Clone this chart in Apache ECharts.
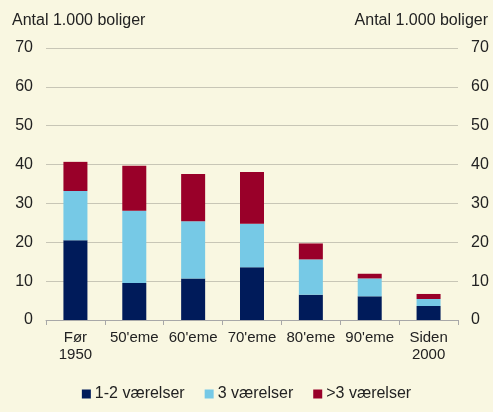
<!DOCTYPE html>
<html>
<head>
<meta charset="utf-8">
<script src="https://cdn.jsdelivr.net/npm/echarts@6/dist/echarts.min.js"></script>
<style>
  html, body { margin: 0; padding: 0; background: #f9f7e1; }
  #chart { width: 493px; height: 412px; }
</style>
</head>
<body>
<div id="chart"></div>
<script>
// Kategorier (opførelsesperiode)
const categories = ['Før\n1950', "50'eme", "60'eme", "70'eme", "80'eme", "90'eme", 'Siden\n2000'];

// Antal 1.000 boliger pr. størrelse
const small = [20.5, 9.5, 10.7, 13.6, 6.5, 6.1, 3.6];   // 1-2 værelser
const medium = [12.7, 18.6, 14.7, 11.2, 9.1, 4.6, 1.8]; // 3 værelser
const large = [7.5, 11.6, 12.2, 13.3, 4.1, 1.2, 1.3];   // >3 værelser

const seriesNames = ['1-2 værelser', '3 værelser', '>3 værelser'];
const axisTitle = 'Antal 1.000 boliger';

const COLORS = {
    navy: '#001b5a',
    lightBlue: '#76c9e6',
    red: '#990029',
    grid: '#c8c6b6',
    axis: '#a8a8a8',
    text: '#222222'
};

const FONT = 'Liberation Sans, Arial, sans-serif';

const chart = echarts.init(document.getElementById('chart'));

const valueAxis = (position) => ({
    type: 'value',
    position: position,
    min: 0,
    max: 70,
    interval: 10,
    axisLine: { show: false },
    axisTick: { show: false },
    axisLabel: {
        color: COLORS.text,
        fontSize: 16,
        fontFamily: FONT,
        margin: 13
    },
    splitLine: { show: position === 'left', lineStyle: { color: COLORS.grid, width: 1 } }
});

const option = {
    backgroundColor: '#f9f7e1',
    animation: false,
    textStyle: { fontFamily: FONT },
    title: [
        { text: axisTitle, left: 7, top: 8, textStyle: { fontSize: 16, fontWeight: 'normal', color: COLORS.text, fontFamily: FONT } },
        { text: axisTitle, right: 0, top: 8, textStyle: { fontSize: 16, fontWeight: 'normal', color: COLORS.text, fontFamily: FONT } }
    ],
    legend: {
        bottom: 5,
        left: 'center',
        itemWidth: 9,
        itemHeight: 9,
        itemGap: 20,
        icon: 'rect',
        textStyle: { fontSize: 16, color: COLORS.text, fontFamily: FONT, padding: [0, 0, 0, -1] },
        data: seriesNames
    },
    grid: {
        left: 46,
        right: 35,
        top: 48,
        bottom: 92
    },
    xAxis: {
        type: 'category',
        data: categories,
        axisLine: { lineStyle: { color: COLORS.axis } },
        axisTick: { show: true, length: 5, lineStyle: { color: COLORS.axis } },
        axisLabel: {
            interval: 0,
            color: COLORS.text,
            fontSize: 15,
            fontFamily: FONT,
            lineHeight: 17,
            margin: 9
        }
    },
    yAxis: [valueAxis('left'), valueAxis('right')],
    series: [
        { name: seriesNames[0], type: 'bar', stack: 'total', data: small, barWidth: 24, itemStyle: { color: COLORS.navy } },
        { name: seriesNames[1], type: 'bar', stack: 'total', data: medium, barWidth: 24, itemStyle: { color: COLORS.lightBlue } },
        { name: seriesNames[2], type: 'bar', stack: 'total', data: large, barWidth: 24, itemStyle: { color: COLORS.red } }
    ]
};

chart.setOption(option);
</script>
</body>
</html>
